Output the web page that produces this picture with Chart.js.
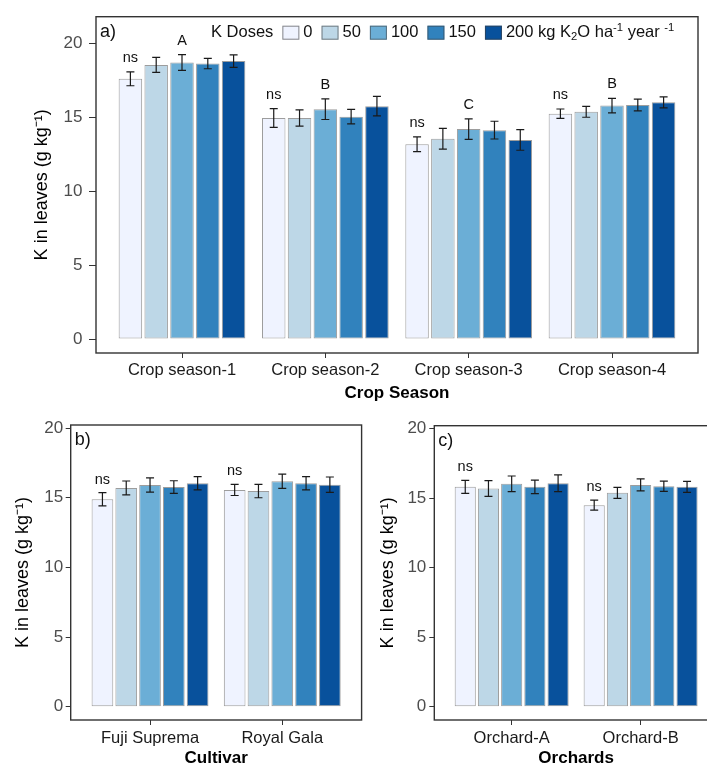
<!DOCTYPE html>
<html><head><meta charset="utf-8">
<script src="https://cdn.jsdelivr.net/npm/chart.js@4.4.1/dist/chart.umd.min.js"></script>
<style>
html,body{margin:0;padding:0;background:#fff;width:707px;height:767px;overflow:hidden;position:relative}
canvas{position:absolute;display:block}
</style></head><body>
<canvas id="ca" width="707" height="410" style="left:0;top:0"></canvas>
<canvas id="cb" width="365" height="357" style="left:0;top:410px"></canvas>
<canvas id="cc" width="360" height="357" style="left:365px;top:410px"></canvas>
<script>
// ---------- data ----------
const doseLabels = ['0', '50', '100', '150', '200'];
const doseColors = ['#eff3ff', '#bdd7e7', '#6baed6', '#3182bd', '#08519c'];
const legendTitle = 'K Doses';
const yTitle = 'K in leaves (g kg\u207B\u00B9)';
const yTickValues = [0, 5, 10, 15, 20];

// a) crop seasons
const seasonCats = ['Crop season-1', 'Crop season-2', 'Crop season-3', 'Crop season-4'];
const seasonK0   = [17.60, 14.95, 13.18, 15.24];
const seasonK50  = [18.54, 14.95, 13.55, 15.37];
const seasonK100 = [18.70, 15.55, 14.20, 15.79];
const seasonK150 = [18.63, 15.04, 14.13, 15.83];
const seasonK200 = [18.80, 15.75, 13.47, 16.01];
const seasonErr0   = [0.47, 0.63, 0.50, 0.32];
const seasonErr50  = [0.51, 0.55, 0.70, 0.37];
const seasonErr100 = [0.53, 0.70, 0.69, 0.49];
const seasonErr150 = [0.35, 0.49, 0.60, 0.40];
const seasonErr200 = [0.42, 0.66, 0.70, 0.37];
const seasonNs = ['ns', 'ns', 'ns', 'ns'];
const seasonLetters = ['A', 'B', 'C', 'B'];

// b) cultivars
const cultivarCats = ['Fuji Suprema', 'Royal Gala'];
const cultivarK0   = [14.89, 15.56];
const cultivarK50  = [15.70, 15.48];
const cultivarK100 = [15.92, 16.18];
const cultivarK150 = [15.77, 16.04];
const cultivarK200 = [16.04, 15.94];
const cultivarErr0   = [0.48, 0.40];
const cultivarErr50  = [0.50, 0.48];
const cultivarErr100 = [0.51, 0.51];
const cultivarErr150 = [0.45, 0.48];
const cultivarErr200 = [0.48, 0.55];
const cultivarNs = ['ns', 'ns'];

// c) orchards
const orchardCats = ['Orchard-A', 'Orchard-B'];
const orchardK0   = [15.82, 14.50];
const orchardK50  = [15.70, 15.39];
const orchardK100 = [16.04, 15.96];
const orchardK150 = [15.82, 15.87];
const orchardK200 = [16.08, 15.82];
const orchardErr0   = [0.47, 0.36];
const orchardErr50  = [0.57, 0.40];
const orchardErr100 = [0.56, 0.43];
const orchardErr150 = [0.49, 0.37];
const orchardErr200 = [0.60, 0.40];
const orchardNs = ['ns', 'ns'];

// ---------- helpers ----------
const FAM = '"Liberation Sans", Arial, Helvetica, sans-serif';
const BAR_BORDER = 'rgba(60,60,60,0.5)';

function drawRich(ctx, segs, x, yc, size) {
  segs.forEach(s => {
    let fs = size, dy = 0;
    if (s.sub) { fs = size * 0.68; dy = size * 0.28; }
    if (s.sup) { fs = size * 0.68; dy = -size * 0.3; }
    ctx.font = fs + 'px ' + FAM;
    ctx.fillText(s.t, x, yc + dy);
    x += ctx.measureText(s.t).width;
  });
  return x;
}

const framePlugin = {
  id: 'frame',
  afterDraw(chart) {
    const ca = chart.chartArea, ctx = chart.ctx;
    ctx.save();
    ctx.strokeStyle = '#333';
    ctx.lineWidth = 1.4;
    ctx.strokeRect(ca.left, ca.top, ca.right - ca.left, ca.bottom - ca.top);
    ctx.restore();
  }
};

const errPlugin = {
  id: 'errBars',
  afterDatasetsDraw(chart) {
    const ctx = chart.ctx, ys = chart.scales.y;
    ctx.save();
    ctx.strokeStyle = '#1a1a1a';
    ctx.lineWidth = 1.2;
    chart.data.datasets.forEach((ds, i) => {
      const meta = chart.getDatasetMeta(i);
      meta.data.forEach((el, j) => {
        const v = ds.data[j].y, e = ds.errors[j];
        const x = el.x, y1 = ys.getPixelForValue(v + e), y2 = ys.getPixelForValue(v - e);
        ctx.beginPath();
        ctx.moveTo(x, y1); ctx.lineTo(x, y2);
        ctx.moveTo(x - 4, y1); ctx.lineTo(x + 4, y1);
        ctx.moveTo(x - 4, y2); ctx.lineTo(x + 4, y2);
        ctx.stroke();
      });
    });
    ctx.restore();
  }
};

const marksPlugin = {
  id: 'marks',
  afterDatasetsDraw(chart, args, opts) {
    const ctx = chart.ctx, ys = chart.scales.y, ca = chart.chartArea;
    ctx.save();
    ctx.fillStyle = '#111';
    ctx.textAlign = 'center';
    ctx.textBaseline = 'middle';
    ctx.font = '14.5px ' + FAM;
    const put = (dsIndex, arr) => {
      if (!arr) return;
      const ds = chart.data.datasets[dsIndex];
      const meta = chart.getDatasetMeta(dsIndex);
      arr.forEach((t, j) => {
        const el = meta.data[j];
        const y = ys.getPixelForValue(ds.data[j].y + ds.errors[j]) - opts.offset;
        ctx.fillText(t, el.x, y);
      });
    };
    put(0, opts.ns);
    put(2, opts.letters);
    // panel tag
    ctx.textAlign = 'left';
    ctx.font = '18px ' + FAM;
    ctx.fillText(opts.tag, ca.left + 4, ca.top + 15);
    ctx.restore();
  }
};

const legendPlugin = {
  id: 'kLegend',
  afterDraw(chart, args, opts) {
    if (!opts.show) return;
    const ctx = chart.ctx, ca = chart.chartArea;
    const size = 16.5;
    let x = ca.left + 115;
    const yc = ca.top + 16;
    ctx.save();
    ctx.textBaseline = 'middle';
    ctx.textAlign = 'left';
    ctx.fillStyle = '#111';
    ctx.font = size + 'px ' + FAM;
    ctx.fillText(legendTitle, x, yc);
    x += ctx.measureText(legendTitle).width + 9;
    chart.data.datasets.forEach((ds, i) => {
      ctx.fillStyle = ds.backgroundColor;
      ctx.fillRect(x, yc - 7, 17, 14);
      ctx.strokeStyle = 'rgba(60,60,60,0.6)';
      ctx.lineWidth = 1;
      ctx.strokeRect(x + 0.5, yc - 6.5, 16, 13);
      x += 21;
      ctx.fillStyle = '#111';
      let segs = [{ t: ds.label }];
      if (i === chart.data.datasets.length - 1) {
        segs = [{ t: ds.label + ' kg K' }, { t: '2', sub: true }, { t: 'O ha' },
                 { t: '-1', sup: true }, { t: ' year ' }, { t: '-1', sup: true }];
      }
      x = drawRich(ctx, segs, x, yc, size) + 9;
    });
    ctx.restore();
  }
};

function makePanel(id, P) {
  const datasets = P.values.map((vals, i) => ({
    label: doseLabels[i],
    data: vals.map((y, j) => ({ x: j, y: y })),
    errors: P.errors[i],
    backgroundColor: doseColors[i],
    borderColor: BAR_BORDER,
    borderWidth: 1,
    borderSkipped: false,
    categoryPercentage: 0.9,
    barPercentage: 0.91
  }));
  const n = P.cats.length;
  return new Chart(document.getElementById(id), {
    type: 'bar',
    data: { datasets },
    plugins: [framePlugin, errPlugin, marksPlugin, legendPlugin],
    options: {
      responsive: false,
      animation: false,
      events: [],
      layout: { padding: { left: 0, top: P.padTop, right: P.padRight, bottom: 0 } },
      plugins: {
        legend: { display: false },
        tooltip: { enabled: false },
        marks: { ns: P.ns, letters: P.letters, offset: P.markOffset, tag: P.tag },
        kLegend: { show: P.legend }
      },
      scales: {
        x: {
          type: 'linear',
          offset: false,
          min: -0.6,
          max: n - 0.4,
          afterBuildTicks: s => { s.ticks = P.cats.map((c, i) => ({ value: i })); },
          afterFit: s => { s.height = P.xH; },
          ticks: {
            callback: v => P.cats[v],
            font: { family: FAM, size: 16.5 },
            color: '#1a1a1a',
            padding: P.xTickPad,
            maxRotation: 0,
            autoSkip: false
          },
          grid: { display: true, offset: false, drawOnChartArea: false, drawTicks: true, tickLength: 5, color: '#333' },
          border: { display: false },
          title: {
            display: true, text: P.xTitle, color: '#000',
            font: { family: FAM, size: 17, weight: 'bold', lineHeight: 1 },
            padding: { top: 0, bottom: P.xTitlePad }
          }
        },
        y: {
          min: P.yMin,
          max: P.yMax,
          afterBuildTicks: s => { s.ticks = yTickValues.map(v => ({ value: v })); },
          afterFit: s => { s.width = P.yW; },
          ticks: { font: { family: FAM, size: 17 }, color: '#4d4d4d', padding: P.yTickPad },
          grid: { display: true, drawOnChartArea: false, drawTicks: true, tickLength: P.yTickLen, color: '#333' },
          border: { display: false },
          title: {
            display: true, text: yTitle, color: '#000',
            font: { family: FAM, size: 18, lineHeight: 1 },
            padding: { top: P.yTitlePad, bottom: 0 }
          }
        }
      }
    }
  });
}

makePanel('ca', {
  cats: seasonCats,
  values: [seasonK0, seasonK50, seasonK100, seasonK150, seasonK200],
  errors: [seasonErr0, seasonErr50, seasonErr100, seasonErr150, seasonErr200],
  ns: seasonNs, letters: seasonLetters, tag: 'a)', legend: true,
  xTitle: 'Crop Season',
  yMin: -0.94, yMax: 21.8,
  padTop: 13, padRight: 9, xH: 57, yW: 96,
  xTickPad: 3, xTitlePad: 8.5, yTickPad: 6.5, yTickLen: 7, yTitlePad: 33,
  markOffset: 14
});

makePanel('cb', {
  cats: cultivarCats,
  values: [cultivarK0, cultivarK50, cultivarK100, cultivarK150, cultivarK200],
  errors: [cultivarErr0, cultivarErr50, cultivarErr100, cultivarErr150, cultivarErr200],
  ns: cultivarNs, letters: null, tag: 'b)', legend: false,
  xTitle: 'Cultivar',
  yMin: -0.95, yMax: 20.22,
  padTop: 15, padRight: 3.4, xH: 47, yW: 70.7,
  xTickPad: 4, xTitlePad: 0, yTickPad: 2.5, yTickLen: 5, yTitlePad: 14,
  markOffset: 13
});

makePanel('cc', {
  cats: orchardCats,
  values: [orchardK0, orchardK50, orchardK100, orchardK150, orchardK200],
  errors: [orchardErr0, orchardErr50, orchardErr100, orchardErr150, orchardErr200],
  ns: orchardNs, letters: null, tag: 'c)', legend: false,
  xTitle: 'Orchards',
  yMin: -0.95, yMax: 20.22,
  padTop: 15.7, padRight: 7, xH: 47, yW: 69.3,
  xTickPad: 4, xTitlePad: 0, yTickPad: 3, yTickLen: 5, yTitlePad: 14,
  markOffset: 13
});
</script>
</body></html>
